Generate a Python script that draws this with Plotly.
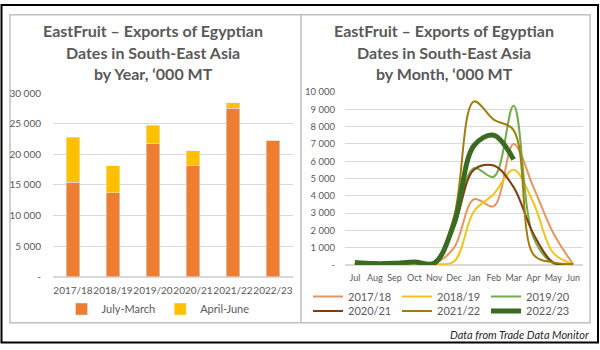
import plotly.graph_objects as go

# ---------------- data ----------------
years = ["2017/18", "2018/19", "2019/20", "2020/21", "2021/22", "2022/23"]
july_march = [15400, 13700, 21800, 18200, 27500, 22300]
april_june = [7400, 4400, 2950, 2350, 900, 0]

months = ["Jul", "Aug", "Sep", "Oct", "Nov", "Dec", "Jan", "Feb", "Mar", "Apr", "May", "Jun"]
s_1718 = [80, 60, 80, 120, 100, 1000, 3800, 3400, 7000, 4500, 1850, 50]
s_1819 = [50, 40, 60, 100, 50, 200, 3100, 4100, 5500, 3600, 700, 50]
s_1920 = [80, 60, 80, 150, 100, 2500, 5600, 5100, 9200, 1600, 100, 50]
s_2021 = [80, 60, 80, 150, 100, 2200, 5500, 5750, 4500, 1800, 150, 50]
s_2122 = [60, 50, 80, 120, 80, 2800, 9450, 8400, 7800, 600, 150, 50]
s_2223 = [150, 80, 100, 180, 100, 2400, 6900, 7500, 6100]

left_ticks = [0, 5000, 10000, 15000, 20000, 25000, 30000]
left_ticktext = ["-", "5 000", "10 000", "15 000", "20 000", "25 000", "30 000"]
right_ticks = [0, 1000, 2000, 3000, 4000, 5000, 6000, 7000, 8000, 9000, 10000]
right_ticktext = ["-", "1 000", "2 000", "3 000", "4 000", "5 000", "6 000",
                  "7 000", "8 000", "9 000", "10 000"]

W, H = 600, 350
FONT = "Lato"
GREY = "#595959"

def px(x):
    return x / W

def py(y):
    return 1 - y / H

fig = go.Figure()

# ---- left: stacked bars ----
fig.add_trace(go.Bar(x=years, y=july_march, name="July-March", marker_color="#ED7D31",
                     xaxis="x", yaxis="y", legend="legend"))
fig.add_trace(go.Bar(x=years, y=april_june, name="April-June", marker_color="#FFC000",
                     xaxis="x", yaxis="y", legend="legend"))

# ---- right: smoothed lines ----
line_series = [
    ("2017/18", s_1718, "#E8955E", 2, "legend2"),
    ("2018/19", s_1819, "#F2C41B", 2, "legend2"),
    ("2019/20", s_1920, "#70AD47", 2, "legend2"),
    ("2020/21", s_2021, "#843C0C", 2, "legend3"),
    ("2021/22", s_2122, "#A07D0C", 2, "legend3"),
    ("2022/23", s_2223, "#3B6B23", 5, "legend3"),
]
for name, vals, col, w, lg in line_series:
    fig.add_trace(go.Scatter(x=months[:len(vals)], y=vals, name=name, mode="lines",
                             line=dict(color=col, width=w, shape="spline", smoothing=1.0),
                             xaxis="x2", yaxis="y2", legend=lg))

fig.update_layout(
    width=W, height=H,
    margin=dict(l=0, r=0, t=0, b=0, autoexpand=False),
    paper_bgcolor="white", plot_bgcolor="white",
    barmode="stack", bargap=0.66,
    font=dict(family=FONT, color=GREY),
    xaxis=dict(domain=[px(53), px(293)], anchor="y", type="category",
               showgrid=False, showline=False, ticks="", tickangle=0, automargin=False,
               ticklabelstandoff=6,
               tickfont=dict(family=FONT, size=10, color=GREY), fixedrange=True),
    yaxis=dict(domain=[py(276.7), py(93)], anchor="x", range=[0, 30000],
               tickvals=left_ticks, ticktext=left_ticktext, automargin=False,
               gridcolor="#D9D9D9", gridwidth=1, zeroline=True, zerolinecolor="#D9D9D9",
               showline=False, ticks="", ticklabelstandoff=11,
               tickfont=dict(family=FONT, size=10, color=GREY)),
    xaxis2=dict(domain=[px(345), px(583)], anchor="y2", type="category",
                categoryorder="array", categoryarray=months, range=[-0.5, 11.5],
                showgrid=False, showline=False, ticks="", tickangle=0, automargin=False,
                ticklabelstandoff=6,
                tickfont=dict(family=FONT, size=9, color=GREY)),
    yaxis2=dict(domain=[py(265), py(92)], anchor="x2", range=[0, 10000],
                tickvals=right_ticks, ticktext=right_ticktext, automargin=False,
                gridcolor="#D9D9D9", gridwidth=1, zeroline=True, zerolinecolor="#D9D9D9",
                showline=False, ticks="", ticklabelstandoff=9,
                tickfont=dict(family=FONT, size=9.5, color=GREY)),
    legend=dict(orientation="h", x=px(158), xanchor="center", y=py(309), yanchor="middle",
                font=dict(family=FONT, size=11, color=GREY), bgcolor="rgba(0,0,0,0)",
                traceorder="normal"),
    legend2=dict(orientation="h", x=px(308), xanchor="left", y=py(296.5), yanchor="middle",
                 font=dict(family=FONT, size=11, color=GREY), bgcolor="rgba(0,0,0,0)",
                 entrywidth=44, traceorder="normal"),
    legend3=dict(orientation="h", x=px(308), xanchor="left", y=py(311), yanchor="middle",
                 font=dict(family=FONT, size=11, color=GREY), bgcolor="rgba(0,0,0,0)",
                 entrywidth=44, traceorder="normal"),
    showlegend=True,
)

title_font = dict(family=FONT, size=16, color=GREY)
left_title = ["EastFruit – Exports of Egyptian", "Dates in South-East Asia", "by Year, ‘000 MT"]
right_title = ["EastFruit – Exports of Egyptian", "Dates in South-East Asia", "by Month, ‘000 MT"]
for i, (lt, rt) in enumerate(zip(left_title, right_title)):
    yy = py(31 + 21 * i)
    fig.add_annotation(text="<b>" + lt + "</b>", x=px(153), y=yy, xref="paper", yref="paper",
                       xanchor="center", yanchor="middle", showarrow=False, font=title_font)
    fig.add_annotation(text="<b>" + rt + "</b>", x=px(444), y=yy, xref="paper", yref="paper",
                       xanchor="center", yanchor="middle", showarrow=False, font=title_font)

fig.add_annotation(text="<i>Data from Trade Data Monitor</i>", x=px(591), y=py(334),
                   xref="paper", yref="paper", xanchor="right", yanchor="middle",
                   showarrow=False, font=dict(family=FONT, size=11, color="#262626"))

# frames
fig.add_shape(type="rect", xref="paper", yref="paper", x0=px(10), x1=px(590), y0=py(322.7), y1=py(14.7),
              line=dict(color="#BFBFBF", width=1.5), layer="below")
fig.add_shape(type="line", xref="paper", yref="paper", x0=px(301), x1=px(301), y0=py(322.7), y1=py(14.7),
              line=dict(color="#BFBFBF", width=1.5), layer="below")
fig.add_shape(type="rect", xref="paper", yref="paper", x0=px(1.5), x1=px(598), y0=py(342.5), y1=py(5),
              line=dict(color="black", width=2), layer="above")

fig.write_html("out.html")
